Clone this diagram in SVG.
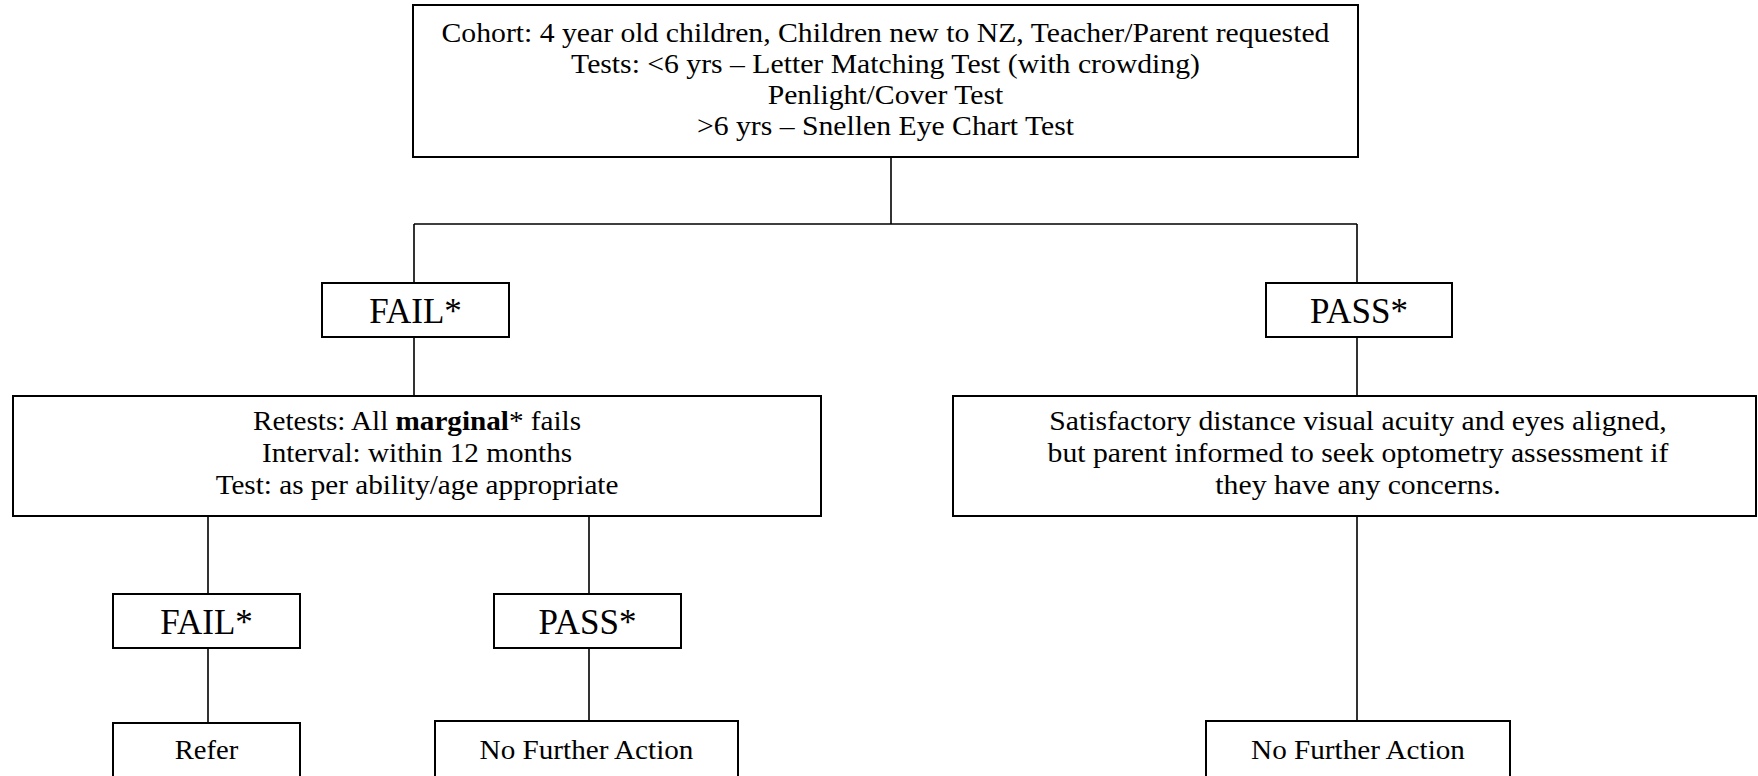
<svg xmlns="http://www.w3.org/2000/svg" width="1758" height="776" viewBox="0 0 1758 776">
<style>
.box{fill:#fff;stroke:#000;stroke-width:2}
.ln{fill:none;stroke:#000;stroke-width:1.6}
.t{font-family:"Liberation Serif","Times New Roman",serif;font-size:27px;fill:#000;text-anchor:middle}
.lb{font-family:"Liberation Serif","Times New Roman",serif;font-size:35px;fill:#000;text-anchor:middle}
</style>
<rect width="1758" height="776" fill="#fff"/>
<g id="connectors">
<path class="ln" d="M891 157V224M414 224H1357M414 224V283M1357 224V283M414 337V396M1357 337V396M208 516V594M589 516V594M208 648V723M589 648V721M1357 516V721"/>
</g>
<g id="cohort">
<rect class="box" x="413" y="5" width="945" height="152"/>
<g transform="translate(885.5,0) scale(1.1,1)">
<text class="t" x="0" y="42">Cohort: 4 year old children, Children new to NZ, Teacher/Parent requested</text>
<text class="t" x="0" y="73">Tests: &lt;6 yrs – Letter Matching Test (with crowding)</text>
<text class="t" x="0" y="104">Penlight/Cover Test</text>
<text class="t" x="0" y="135">&gt;6 yrs – Snellen Eye Chart Test</text>
</g>
</g>
<g id="fail1">
<rect class="box" x="322" y="283" width="187" height="54"/>
<text class="lb" x="415.5" y="323">FAIL*</text>
</g>
<g id="pass1">
<rect class="box" x="1266" y="283" width="186" height="54"/>
<text class="lb" x="1359" y="323">PASS*</text>
</g>
<g id="retests">
<rect class="box" x="13" y="396" width="808" height="120"/>
<g transform="translate(417,0) scale(1.08,1)">
<text class="t" x="0" y="430">Retests: All <tspan font-weight="bold">marginal</tspan>* fails</text>
<text class="t" x="0" y="462">Interval: within 12 months</text>
<text class="t" x="0" y="494">Test: as per ability/age appropriate</text>
</g>
</g>
<g id="satisfactory">
<rect class="box" x="953" y="396" width="803" height="120"/>
<g transform="translate(1358,0) scale(1.1,1)">
<text class="t" x="0" y="430">Satisfactory distance visual acuity and eyes aligned,</text>
<text class="t" x="0" y="462">but parent informed to seek optometry assessment if</text>
<text class="t" x="0" y="494">they have any concerns.</text>
</g>
</g>
<g id="fail2">
<rect class="box" x="113" y="594" width="187" height="54"/>
<text class="lb" x="206.5" y="634">FAIL*</text>
</g>
<g id="pass2">
<rect class="box" x="494" y="594" width="187" height="54"/>
<text class="lb" x="587.5" y="634">PASS*</text>
</g>
<g id="refer">
<rect class="box" x="113" y="723" width="187" height="70"/>
<g transform="translate(206.5,0) scale(1.06,1)"><text class="t" x="0" y="759">Refer</text></g>
</g>
<g id="nfa1">
<rect class="box" x="435" y="721" width="303" height="70"/>
<g transform="translate(586.5,0) scale(1.08,1)"><text class="t" x="0" y="759">No Further Action</text></g>
</g>
<g id="nfa2">
<rect class="box" x="1206" y="721" width="304" height="70"/>
<g transform="translate(1358,0) scale(1.08,1)"><text class="t" x="0" y="759">No Further Action</text></g>
</g>
</svg>
